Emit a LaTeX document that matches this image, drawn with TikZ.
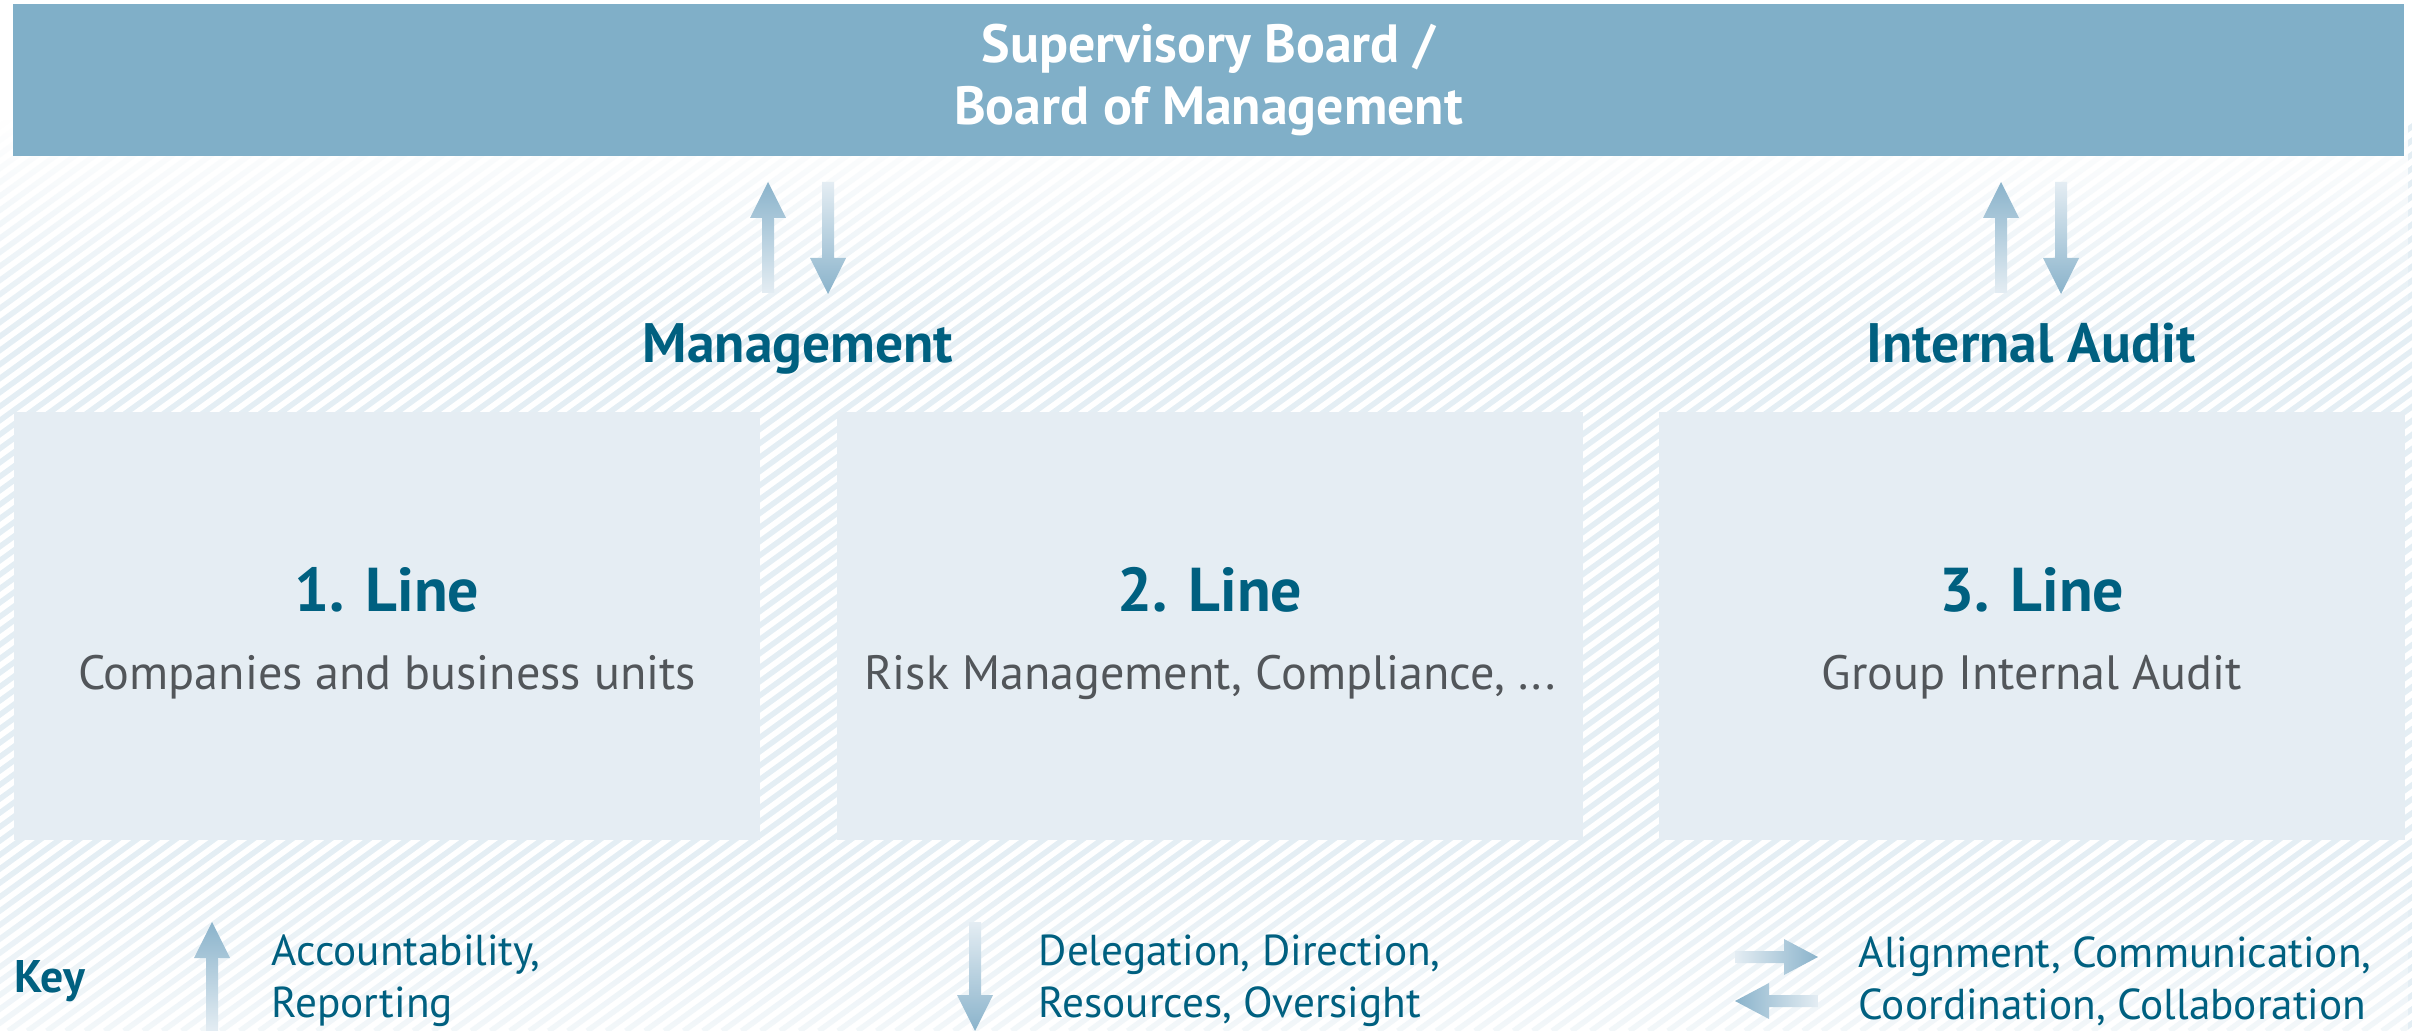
\documentclass[tikz,border=0pt]{standalone}
\usepackage{fontspec}
\setmainfont{PT Sans}
\usepackage{xcolor}
\usetikzlibrary{positioning,fadings}

\definecolor{boardblue}{RGB}{128,175,200}
\definecolor{linefill}{RGB}{229,237,243}
\definecolor{petrol}{RGB}{0,96,128}
\definecolor{textgray}{RGB}{82,86,90}
\definecolor{hatch}{RGB}{228,238,244}
\definecolor{arrowdark}{RGB}{138,179,203}
\definecolor{arrowlight}{RGB}{228,237,243}

\tikzfading[name=fadetop, top color=transparent!0, bottom color=transparent!100]
\tikzfading[name=fadebottom, top color=transparent!100, bottom color=transparent!45]

\begin{document}
\begin{tikzpicture}[
    x=0.01cm, y=-0.01cm,
    board/.style={rectangle, fill=boardblue, minimum width=23.89cm, minimum height=1.52cm, align=center, text=white, font=\fontsize{15.3}{17.4}\selectfont\bfseries},
    linebox/.style={rectangle, fill=linefill, minimum width=7.46cm, minimum height=4.28cm},
    linetitle/.style={inner sep=0pt, anchor=base, text=petrol, font=\fontsize{17.6}{22}\selectfont\bfseries},
    linetext/.style={inner sep=0pt, anchor=base, text=textgray, font=\fontsize{13.7}{16}\selectfont},
    roletitle/.style={inner sep=0pt, anchor=base, text=petrol, font=\fontsize{15.8}{18}\selectfont\bfseries},
    keytext/.style={inner sep=0pt, anchor=west, align=left, text=petrol, font=\fontsize{12.3}{14.8}\selectfont},
    hatchline/.style={draw=hatch, line width=0.055cm}
]
\useasboundingbox (0,0) rectangle (2412,1031);

% Hatched background
\begin{scope}
\clip (0,0) rectangle (2412,1031);
\foreach \i in {0,...,200}
    \draw[hatchline] ({-1420+\i*19.3},1031) -- ++(1420,-1031);
\end{scope}
\fill[white] (0,0) rectangle (2412,120);
\fill[white, path fading=fadetop] (0,120) rectangle (2412,340);
\fill[white, path fading=fadebottom] (0,850) rectangle (2412,1031);

% Supervisory Board / Board of Management
\node[board] (board) at (1208.5,80) {Supervisory Board /\\Board of Management};

% The three lines
\node[linebox] (line1) at (387,626) {};
\node[linebox, right=0.75cm of line1] (line2) {};
\node[linebox, right=0.74cm of line2] (line3) {};

\node[linetitle] (title1) at ([yshift=0.14cm]line1.center) {1. Line};
\node[linetitle] (title2) at ([yshift=0.14cm]line2.center) {2. Line};
\node[linetitle] (title3) at ([yshift=0.14cm]line3.center) {3. Line};
\node[linetext] (text1) at ([yshift=-0.63cm]line1.center) {Companies and business units};
\node[linetext] (text2) at ([yshift=-0.63cm]line2.center) {Risk Management, Compliance, ...};
\node[linetext] (text3) at ([yshift=-0.63cm]line3.center) {Group Internal Audit};

% Management and Internal Audit
\node[roletitle] (mgmt) at (798,363) {Management};
\node[roletitle] (audit) at (2031,363) {Internal Audit};

% Arrows between board and roles
\foreach \x in {768,2001}
    \shade[top color=arrowdark, bottom color=arrowlight]
        (\x-6,293) -- (\x-6,218) -- (\x-18,218) -- (\x,182) -- (\x+18,218) -- (\x+6,218) -- (\x+6,293) -- cycle;
\foreach \x in {828,2061}
    \shade[top color=arrowlight, bottom color=arrowdark]
        (\x-6,182) -- (\x-6,258) -- (\x-18,258) -- (\x,294) -- (\x+18,258) -- (\x+6,258) -- (\x+6,182) -- cycle;

% Key
\node[inner sep=0pt, anchor=base west, text=petrol, font=\fontsize{13}{15}\selectfont\bfseries] (key) at (14,992) {Key};
\shade[top color=arrowdark, bottom color=arrowlight]
    (206,1031) -- (206,958) -- (194,958) -- (212,922) -- (230,958) -- (218,958) -- (218,1031) -- cycle;
\node[keytext] (keyup) at (271,981) {Accountability,\\Reporting};
\shade[top color=arrowlight, bottom color=arrowdark]
    (969,922) -- (969,995) -- (957,995) -- (975,1031) -- (993,995) -- (981,995) -- (981,922) -- cycle;
\node[keytext] (keydown) at (1038,981) {Delegation, Direction,\\Resources, Oversight};
\shade[left color=arrowlight, right color=arrowdark]
    (1735,951) -- (1784,951) -- (1784,939) -- (1818,957) -- (1784,975) -- (1784,963) -- (1735,963) -- cycle;
\shade[left color=arrowdark, right color=arrowlight]
    (1818,995) -- (1769,995) -- (1769,983) -- (1735,1001) -- (1769,1019) -- (1769,1007) -- (1818,1007) -- cycle;
\node[keytext] (keyside) at (1858,981) {Alignment, Communication,\\Coordination, Collaboration};

\end{tikzpicture}
\end{document}
